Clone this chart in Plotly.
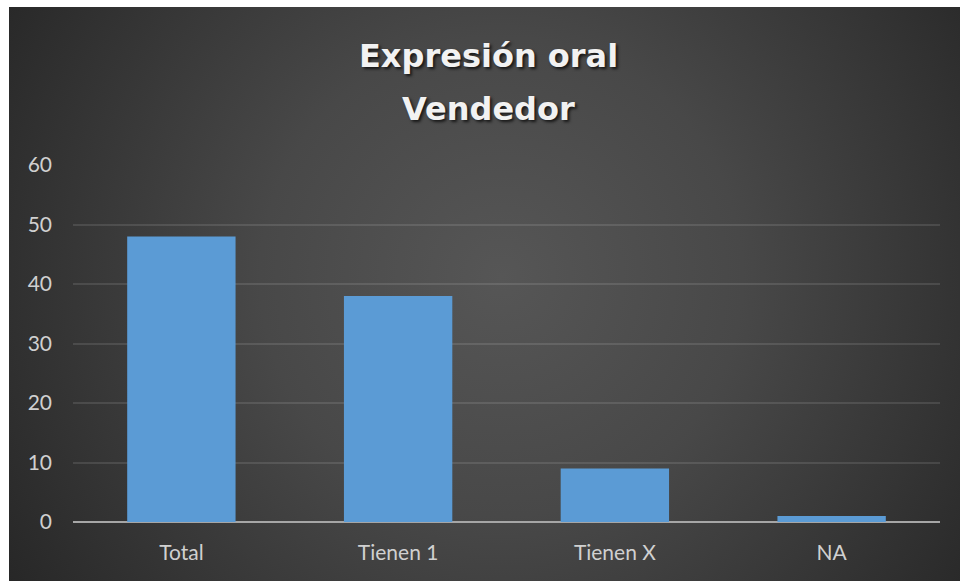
import base64
import plotly.graph_objects as go

# ---- data ----
categories = ["Total", "Tienen 1", "Tienen X", "NA"]
values = [48, 38, 9, 1]
y_tick_values = [0, 10, 20, 30, 40, 50, 60]
title_line1 = "Expresión oral"
title_line2 = "Vendedor"

# ---- layout geometry (pixels) ----
W, H = 960, 581
PL, PR, PT, PB = 73, 940, 165, 522  # plot area box
pw, ph = PR - PL, PB - PT


def px_to_paper_x(x):
    return (x - PL) / pw


def px_to_paper_y(y):
    return (PB - y) / ph


# radial gradient background as an SVG image
svg = f"""<svg xmlns='http://www.w3.org/2000/svg' width='951' height='580' viewBox='0 0 951 580' preserveAspectRatio='none'>
<defs><radialGradient id='g' gradientUnits='userSpaceOnUse' cx='490' cy='270' r='600'>
<stop offset='0' stop-color='#565656'/>
<stop offset='0.4' stop-color='#484848'/>
<stop offset='1' stop-color='#252525'/>
</radialGradient></defs>
<rect x='0' y='0' width='951' height='580' fill='url(#g)'/>
</svg>"""
bg_src = "data:image/svg+xml;base64," + base64.b64encode(svg.encode()).decode()

fig = go.Figure()
fig.add_trace(go.Bar(
    x=categories,
    y=values,
    marker=dict(color="#5b9bd5", line=dict(width=0)),
    hoverinfo="x+y",
))

bg_x0 = px_to_paper_x(9)
bg_y0 = px_to_paper_y(7)

title_font = dict(family="DejaVu Sans", size=32, color="#f2f2f2",
                  weight="bold", shadow="2px 2px 3px rgba(0,0,0,0.7)")

fig.update_layout(
    width=W,
    height=H,
    margin=dict(l=PL, r=W - PR, t=PT, b=H - PB),
    paper_bgcolor="white",
    plot_bgcolor="rgba(0,0,0,0)",
    showlegend=False,
    bargap=0.5,
    images=[dict(
        source=bg_src,
        xref="paper", yref="paper",
        x=bg_x0, y=bg_y0,
        sizex=px_to_paper_x(W + 5) - bg_x0,
        sizey=bg_y0 - px_to_paper_y(H + 5),
        xanchor="left", yanchor="top",
        sizing="stretch",
        layer="below",
    )],
    xaxis=dict(
        showgrid=False,
        showline=False,
        ticks="",
        tickfont=dict(family="Lato, sans-serif", size=21, color="#d0d0d0"),
        ticklabelstandoff=16,
    ),
    yaxis=dict(
        range=[0, 60],
        tickvals=y_tick_values,
        showgrid=True,
        gridcolor="rgba(255,255,255,0.11)",
        gridwidth=1.5,
        zeroline=True,
        zerolinecolor="#a6a6a6",
        zerolinewidth=2,
        showline=False,
        ticks="",
        tickfont=dict(family="Lato, sans-serif", size=21, color="#d0d0d0"),
        ticklabelstandoff=20,
    ),
    annotations=[
        dict(text=title_line1, xref="paper", yref="paper",
             x=px_to_paper_x(488), y=px_to_paper_y(56),
             xanchor="center", yanchor="middle", showarrow=False,
             font=title_font),
        dict(text=title_line2, xref="paper", yref="paper",
             x=px_to_paper_x(488), y=px_to_paper_y(109),
             xanchor="center", yanchor="middle", showarrow=False,
             font=title_font),
    ],
)

fig.write_html(
    "out.html",
    config={"displayModeBar": False},
    post_script="document.body.style.margin='0';document.body.style.overflow='hidden';",
)
